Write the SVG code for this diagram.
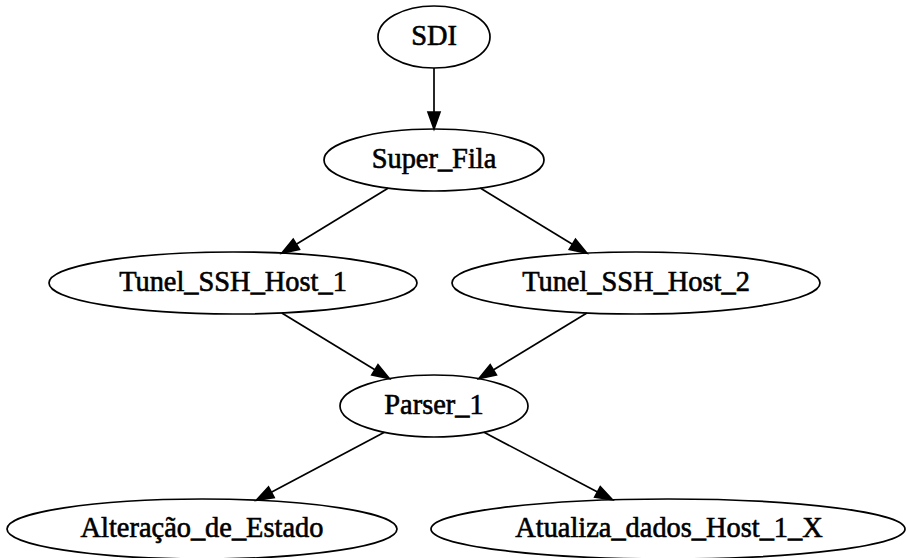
<svg xmlns="http://www.w3.org/2000/svg" width="906" height="558" viewBox="0 0 906 558">
<style>
  .node ellipse { fill: none; stroke: #000; stroke-width: 1.7; }
  .node text { font-family: 'Liberation Serif', 'Times New Roman', Times, serif; font-size: 28.4px; fill: #000; stroke: #000; stroke-width: 0.6; text-anchor: middle; }
  .edge line { stroke: #000; stroke-width: 1.7; }
  .edge polygon { fill: #000; stroke: #000; stroke-width: 1.7; }
</style>
<rect x="0" y="0" width="906" height="558" fill="#fff"/>
<g id="edges">
  <g class="edge" id="e_sdi_sf">
    <line x1="434" y1="68" x2="434" y2="112"/>
    <polygon points="428,112 440,112 434,129"/>
  </g>
  <g class="edge" id="e_sf_t1">
    <line x1="388" y1="188.2" x2="296.3" y2="244.2"/>
    <polygon points="299.4,249.3 293.2,239.1 281.8,253.1"/>
  </g>
  <g class="edge" id="e_sf_t2">
    <line x1="480.2" y1="188.1" x2="572.4" y2="244.3"/>
    <polygon points="569.3,249.4 575.5,239.2 586.9,253.1"/>
  </g>
  <g class="edge" id="e_t1_p">
    <line x1="281.8" y1="312.9" x2="374.9" y2="369.8"/>
    <polygon points="371.8,374.9 378,364.7 389.4,378.7"/>
  </g>
  <g class="edge" id="e_t2_p">
    <line x1="586.9" y1="312.9" x2="493.3" y2="369.9"/>
    <polygon points="496.4,375 490.2,364.7 478.8,378.7"/>
  </g>
  <g class="edge" id="e_p_a">
    <line x1="384.4" y1="432.3" x2="271.3" y2="492.2"/>
    <polygon points="274.1,497.5 268.5,486.9 256.3,500.2"/>
  </g>
  <g class="edge" id="e_p_u">
    <line x1="484" y1="432.3" x2="597.5" y2="491.9"/>
    <polygon points="594.7,497.2 600.3,486.6 612.5,499.8"/>
  </g>
</g>
<g class="node" id="SDI">
  <ellipse cx="434" cy="37" rx="56" ry="31"/>
  <text x="434" y="45">SDI</text>
</g>
<g class="node" id="Super_Fila">
  <ellipse cx="434" cy="160" rx="110" ry="31"/>
  <text x="434" y="168">Super_Fila</text>
</g>
<g class="node" id="Tunel_SSH_Host_1">
  <ellipse cx="233" cy="283" rx="184" ry="31"/>
  <text x="233" y="291">Tunel_SSH_Host_1</text>
</g>
<g class="node" id="Tunel_SSH_Host_2">
  <ellipse cx="636" cy="283" rx="184" ry="31"/>
  <text x="636" y="291">Tunel_SSH_Host_2</text>
</g>
<g class="node" id="Parser_1">
  <ellipse cx="434" cy="406" rx="94" ry="31"/>
  <text x="434" y="414">Parser_1</text>
</g>
<g class="node" id="Alteracao_de_Estado">
  <ellipse cx="202" cy="529" rx="195" ry="30"/>
  <text x="202" y="537">Alteração_de_Estado</text>
</g>
<g class="node" id="Atualiza_dados_Host_1_X">
  <ellipse cx="668" cy="529" rx="237" ry="30"/>
  <text x="669" y="537">Atualiza_dados_Host_1_X</text>
</g>
</svg>
